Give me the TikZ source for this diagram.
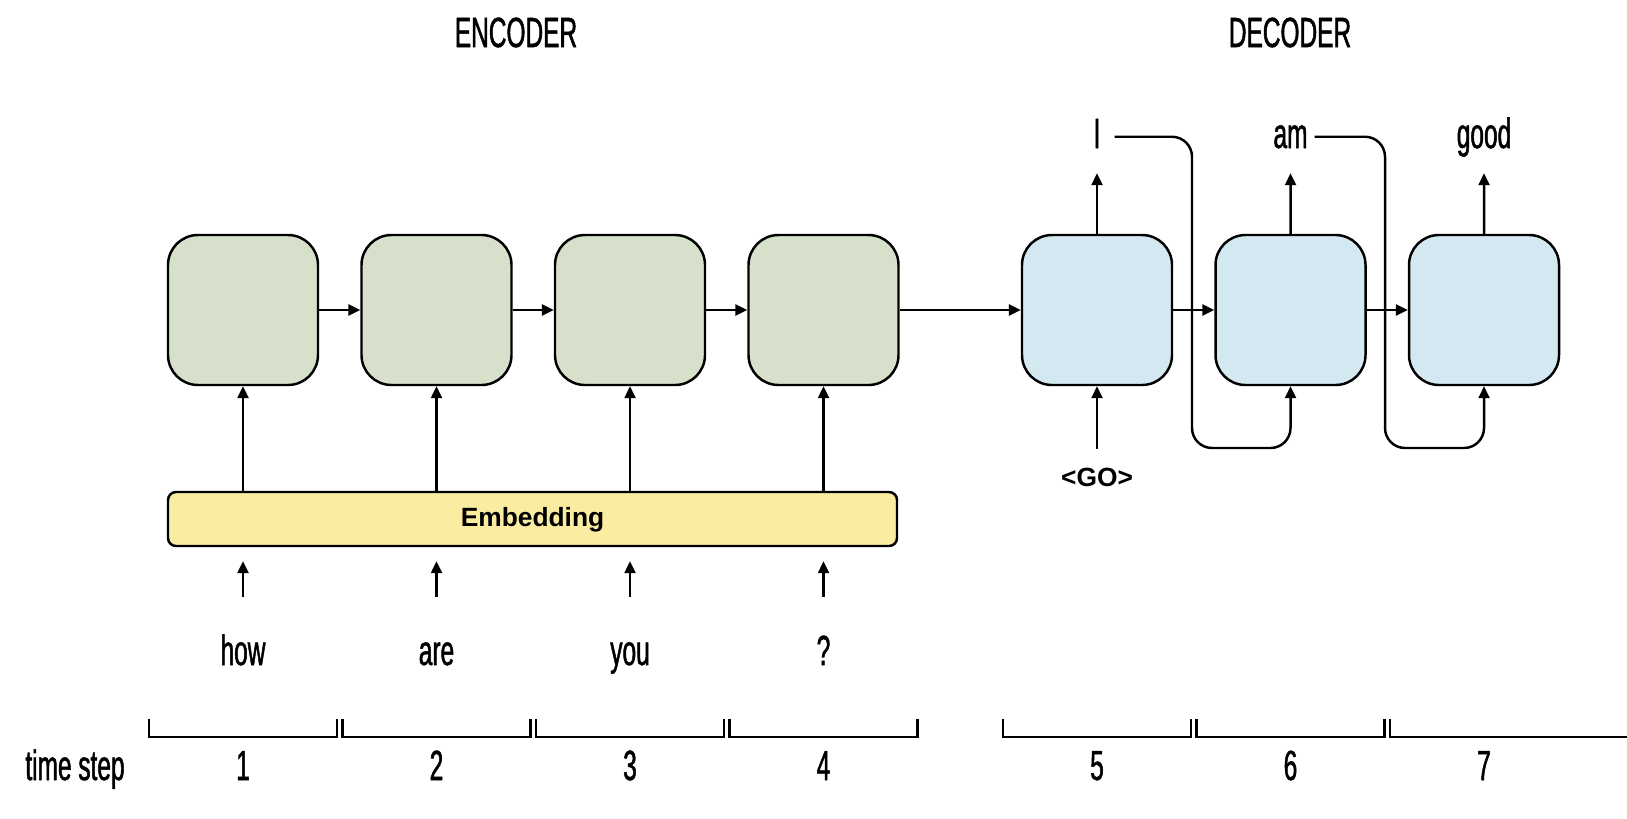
\documentclass[tikz,border=0pt]{standalone}
\usepackage{fontspec}
\setmainfont{Liberation Sans}
\newfontfamily\condfont{Liberation Sans}[FakeStretch=0.58,FakeBold=1.2]
\usetikzlibrary{arrows.meta}

\definecolor{encfill}{RGB}{214,224,202}
\definecolor{decfill}{RGB}{212,232,242}
\definecolor{embfill}{RGB}{250,236,160}

\begin{document}
\begin{tikzpicture}[->,>={Triangle[length=0.24cm,width=0.22cm]},line width=1.4pt,node distance=3.87cm,
    cell/.style={draw,rounded corners=0.6cm,minimum width=3cm,minimum height=3cm,inner sep=0pt},
    enc/.style={cell,fill=encfill},
    dec/.style={cell,fill=decfill},
    word/.style={font=\condfont\fontsize{24}{28}\selectfont,text height=0.6cm,text depth=0.15cm,inner sep=0pt,anchor=base},
    tag/.style={font=\bfseries\fontsize{15}{18}\selectfont,text height=0.34cm,text depth=0.05cm,inner sep=0pt},
    bracket/.style={-}]

    \useasboundingbox (0,0) rectangle (32.54,-16.36);

    % 标题
    \node[word] (enctitle) at (10.32,-0.94) {ENCODER};
    \node[word] (dectitle) at (25.8,-0.94)  {DECODER};

    % 编码器单元
    \node[enc] (e1) at (4.86,-6.2) {};
    \node[enc] (e2) [right of=e1]  {};
    \node[enc] (e3) [right of=e2]  {};
    \node[enc] (e4) [right of=e3]  {};

    % 解码器单元
    \node[dec] (d1) at (21.94,-6.2) {};
    \node[dec] (d2) [right of=d1]   {};
    \node[dec] (d3) [right of=d2]   {};

    % 嵌入层
    \node[tag,draw,fill=embfill,rounded corners=0.16cm,minimum width=14.58cm,minimum height=1.08cm]
        (emb) at (10.65,-10.38) {Embedding};

    % 输入词
    \node[word] (w1) at (4.86,-13.3)  {how};
    \node[word] (w2) at (8.73,-13.3)  {are};
    \node[word] (w3) at (12.6,-13.3)  {you};
    \node[word] (w4) at (16.47,-13.3) {?};

    % 输出词
    \node[word] (o1) at (21.94,-2.96) {I};
    \node[word] (o2) at (25.81,-2.96) {am};
    \node[word] (o3) at (29.68,-2.96) {good};
    \node[tag,anchor=base] (go) at (21.94,-9.72) {<GO>};

    % 词 -> 嵌入层 -> 单元
    \draw[shorten <=0.74cm,shorten >=0.28cm] (w1.north) -- (w1.north |- emb.south);
    \draw[shorten <=0.74cm,shorten >=0.28cm] (w2.north) -- (w2.north |- emb.south);
    \draw[shorten <=0.74cm,shorten >=0.28cm] (w3.north) -- (w3.north |- emb.south);
    \draw[shorten <=0.74cm,shorten >=0.28cm] (w4.north) -- (w4.north |- emb.south);
    \draw (e1 |- emb.north) -- (e1.south);
    \draw (e2 |- emb.north) -- (e2.south);
    \draw (e3 |- emb.north) -- (e3.south);
    \draw (e4 |- emb.north) -- (e4.south);

    % 隐状态传递
    \draw (e1) -- (e2);
    \draw (e2) -- (e3);
    \draw (e3) -- (e4);
    \draw (e4) -- (d1);
    \draw (d1) -- (d2);
    \draw (d2) -- (d3);

    % 解码器输入输出
    \draw[shorten <=0.38cm] (go.north) -- (d1.south);
    \draw[shorten >=0.33cm] (d1.north) -- (o1.south);
    \draw[shorten >=0.33cm] (d2.north) -- (o2.south);
    \draw[shorten >=0.33cm] (d3.north) -- (o3.south);

    % 输出回送为下一步输入
    \coordinate (k1) at (23.84,-8.96);
    \coordinate (k2) at (27.7,-8.96);
    \draw[rounded corners=0.4cm,shorten <=0.26cm] (o1.east) -| (k1) -| (d2.south);
    \draw[rounded corners=0.4cm,shorten <=0.12cm] (o2.east) -| (k2) -| (d3.south);

    % 时间步
    \node[word] (ts) at (1.5,-15.6) {time step};
    \node[word] (t1) at (4.86,-15.6)  {1};
    \node[word] (t2) at (8.73,-15.6)  {2};
    \node[word] (t3) at (12.6,-15.6)  {3};
    \node[word] (t4) at (16.47,-15.6) {4};
    \node[word] (t5) at (21.94,-15.6) {5};
    \node[word] (t6) at (25.81,-15.6) {6};
    \node[word] (t7) at (29.68,-15.6) {7};

    \draw[bracket] ([shift={(-1.88,0.6)}]t1.north) -- ++(0,-0.36) -- ++(3.76,0) -- ++(0,0.36);
    \draw[bracket] ([shift={(-1.88,0.6)}]t2.north) -- ++(0,-0.36) -- ++(3.76,0) -- ++(0,0.36);
    \draw[bracket] ([shift={(-1.88,0.6)}]t3.north) -- ++(0,-0.36) -- ++(3.76,0) -- ++(0,0.36);
    \draw[bracket] ([shift={(-1.88,0.6)}]t4.north) -- ++(0,-0.36) -- ++(3.76,0) -- ++(0,0.36);
    \draw[bracket] ([shift={(-1.88,0.6)}]t5.north) -- ++(0,-0.36) -- ++(3.76,0) -- ++(0,0.36);
    \draw[bracket] ([shift={(-1.88,0.6)}]t6.north) -- ++(0,-0.36) -- ++(3.76,0) -- ++(0,0.36);
    \draw[bracket] ([shift={(-1.88,0.6)}]t7.north) -- ++(0,-0.36) -- ++(4.9,0);

\end{tikzpicture}
\end{document}
